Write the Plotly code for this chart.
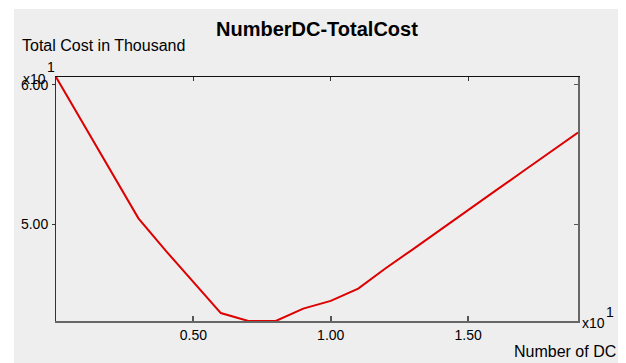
import plotly.graph_objects as go

# Data (Number of DC vs Total Cost in thousand)
number_dc = [0, 1, 2, 3, 4, 5, 6, 7, 8, 9, 10, 11, 12, 13, 14, 15, 16, 17, 18, 19]
total_cost = [60.55, 57.20, 53.80, 50.43, 48.10, 45.86, 43.65, 43.08, 43.08, 43.97,
              44.52, 45.40, 46.86, 48.23, 49.64, 51.03, 52.41, 53.80, 55.21, 56.58]

x_tick_vals = [5, 10, 15]
x_tick_text = ["0.50", "1.00", "1.50"]
y_tick_vals = [50, 60]
y_tick_text = ["5.00", "6.00"]

title_text = "NumberDC-TotalCost"
y_title = "Total Cost in Thousand"
x_title = "Number of DC"

# page body has an 8px margin; the figure is sized to fill the rest of the window
OFF = 8
W, H = 626 - OFF, 363 - OFF
L, R, T, B = 48, 48, 69, 42
pw, ph = W - L - R, H - T - B

def px(X):  # X in screenshot pixels
    return (X - OFF - L) / pw

def py(Y):  # Y in screenshot pixels
    return (H - B - (Y - OFF)) / ph

FONT = "Liberation Sans, Arial, sans-serif"
BG = "#eeeeee"
TXT = "#000000"

fig = go.Figure()
fig.add_trace(go.Scatter(x=number_dc, y=total_cost, mode="lines",
                         line=dict(color="#dd0000", width=2), showlegend=False,
                         hoverinfo="skip"))

x_range = [min(number_dc), max(number_dc)]
y_range = [min(total_cost), max(total_cost)]

fig.update_layout(
    width=W, height=H,
    margin=dict(l=L, r=R, t=T, b=B),
    paper_bgcolor="white",
    plot_bgcolor="rgba(0,0,0,0)",
    font=dict(family=FONT, color=TXT, size=14),
    xaxis=dict(range=x_range, tickvals=x_tick_vals, ticktext=x_tick_text,
               ticks="inside", ticklen=5, tickcolor="#555555", tickwidth=2,
               showline=True, linecolor="#666666", linewidth=2,
               showgrid=False, zeroline=False, tickfont=dict(size=14),
               ticklabelstandoff=0),
    xaxis2=dict(range=x_range, overlaying="x", side="top", tickvals=x_tick_vals,
                showticklabels=False, ticks="inside", ticklen=4, tickcolor="#333333",
                showline=True, linecolor="#111111", linewidth=1,
                showgrid=False, zeroline=False),
    yaxis=dict(range=y_range, tickvals=y_tick_vals, ticktext=y_tick_text,
               ticks="outside", ticklen=3, tickcolor="#333333",
               showline=True, linecolor="#333333", linewidth=1,
               showgrid=False, zeroline=False, tickfont=dict(size=14),
               ticklabelstandoff=1),
    yaxis2=dict(range=y_range, overlaying="y", side="right", tickvals=y_tick_vals,
                showticklabels=False, ticks="inside", ticklen=4, tickcolor="#555555",
                showline=True, linecolor="#666666", linewidth=2,
                showgrid=False, zeroline=False),
    shapes=[dict(type="rect", xref="paper", yref="paper",
                 x0=px(14), x1=px(640), y0=py(380), y1=py(9),
                 fillcolor=BG, line=dict(width=0), layer="below")],
)

# invisible trace on secondary axes so they render
fig.add_trace(go.Scatter(x=[number_dc[0]], y=[total_cost[0]], xaxis="x2", yaxis="y2",
                         mode="markers", marker=dict(opacity=0), showlegend=False,
                         hoverinfo="skip"))

def label(text, X, Y, size, xanchor="left", bold=False):
    return dict(text=("<b>%s</b>" % text) if bold else text, x=px(X), y=py(Y),
                xref="paper", yref="paper", xanchor=xanchor, yanchor="middle",
                showarrow=False, font=dict(size=size, family=FONT, color=TXT))

ann = [
    label(title_text, 317, 29, 20, "center", bold=True),
    label(y_title, 20, 45, 16),
    label("x10", 21, 79, 14),
    label("1", 45, 67, 14),
    label("x10", 580, 323, 14),
    label("1", 604, 312, 14),
    label(x_title, 618, 351, 16, "right"),
]
fig.update_layout(annotations=ann)

fig.write_html("out.html")
